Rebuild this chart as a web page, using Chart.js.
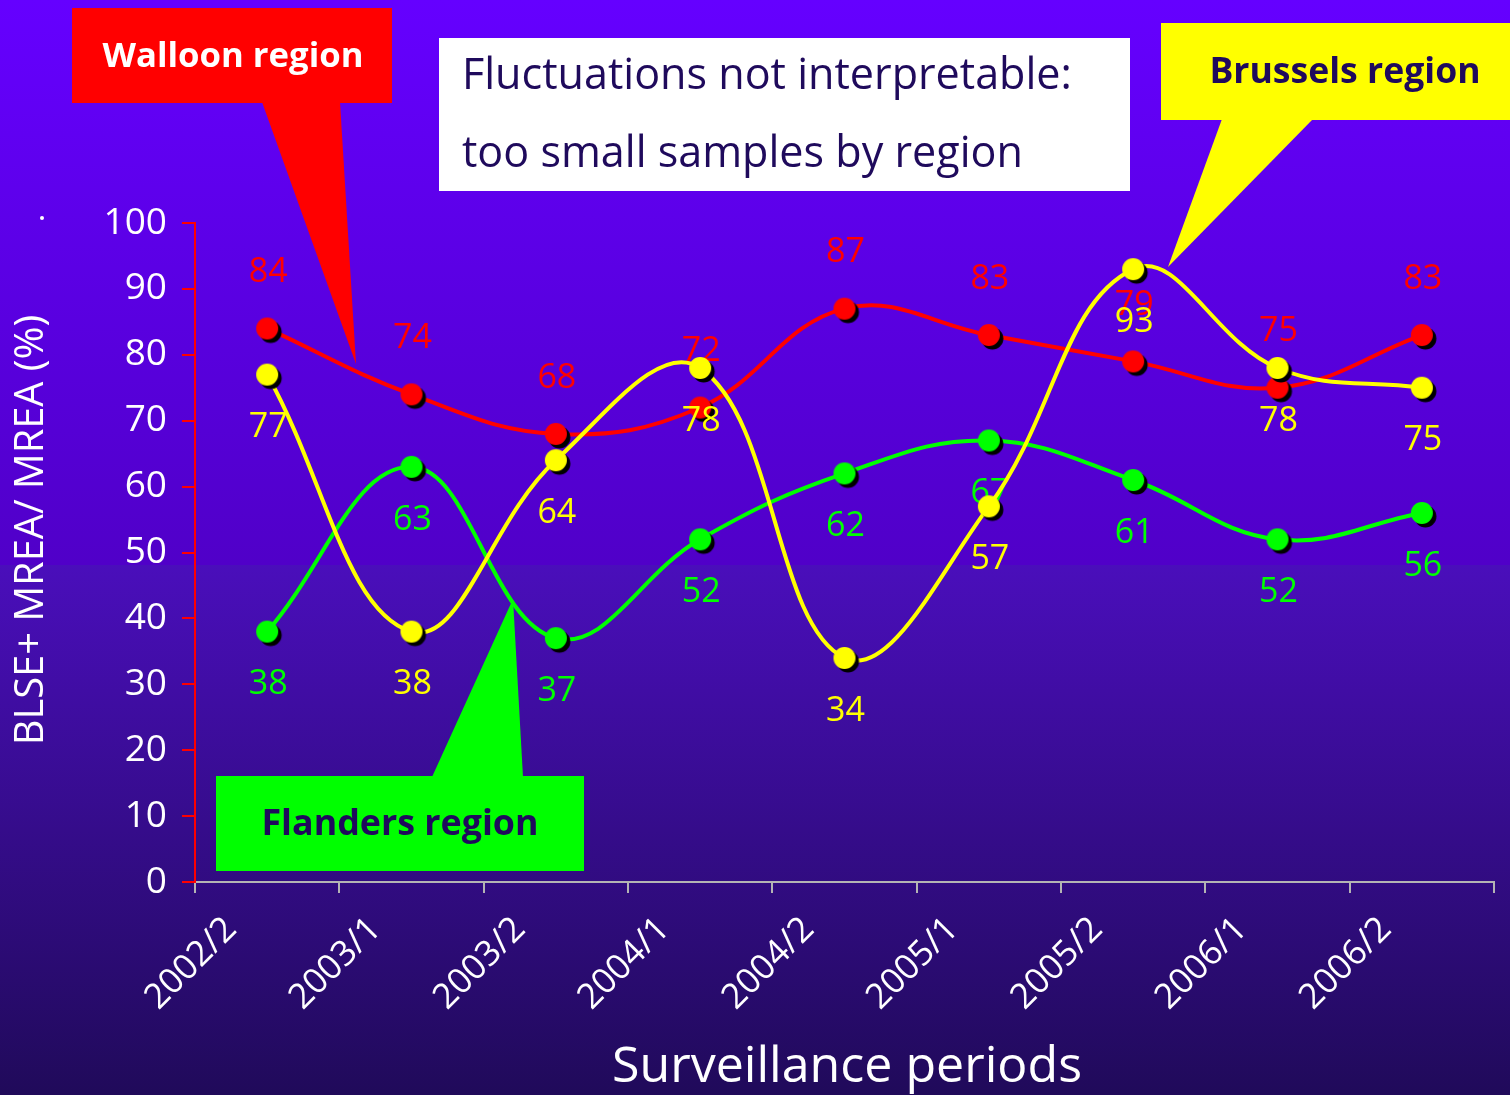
<!DOCTYPE html>
<html>
<head>
<meta charset="utf-8">
<title>BLSE+ MREA / MREA by region</title>
<script src="https://cdn.jsdelivr.net/npm/chart.js@4.4.1/dist/chart.umd.min.js"></script>
<style>
  html, body { margin: 0; padding: 0; background: #3a0aa8; }
  #wrap { position: relative; width: 1510px; height: 1095px; }
</style>
</head>
<body>
<div id="wrap"><canvas id="chart" width="1510" height="1095"></canvas></div>
<script>
// Surveillance periods and percentage of BLSE+ MREA among MREA, per region
const periods  = ['2002/2', '2003/1', '2003/2', '2004/1', '2004/2', '2005/1', '2005/2', '2006/1', '2006/2'];
const walloon  = [84, 74, 68, 72, 87, 83, 79, 75, 83];
const flanders = [38, 63, 37, 52, 62, 67, 61, 52, 56];
const brussels = [77, 38, 64, 78, 34, 57, 93, 78, 75];
const yTickValues = [0, 10, 20, 30, 40, 50, 60, 70, 80, 90, 100];

const FONT = '"Comic Sans MS", "Open Sans", sans-serif';
const RED = '#ff0000', GREEN = '#00ff00', YELLOW = '#ffff00', NAVY = '#1f0a5c';

// round marker with a dark drop shadow
function marker(color) {
  const c = document.createElement('canvas');
  c.width = c.height = 32;
  const g = c.getContext('2d');
  g.fillStyle = '#000';
  g.beginPath(); g.arc(19.5, 19.5, 11, 0, Math.PI * 2); g.fill();
  g.fillStyle = color;
  g.beginPath(); g.arc(16, 16, 11, 0, Math.PI * 2); g.fill();
  return c;
}

// font size that makes text span the given width
function fitSize(ctx, text, weight, width) {
  ctx.font = weight + ' 100px ' + FONT;
  return 100 * width / ctx.measureText(text).width;
}

function fitText(ctx, text, weight, width, x, y, align, color) {
  const size = fitSize(ctx, text, weight, width);
  ctx.font = weight + ' ' + size.toFixed(1) + 'px ' + FONT;
  ctx.fillStyle = color;
  ctx.textAlign = align;
  ctx.textBaseline = 'middle';
  ctx.fillText(text, x, y);
  return size;
}

const backdrop = {
  id: 'backdrop',
  beforeDraw(chart) {
    const ctx = chart.ctx, w = chart.width, h = chart.height;
    ctx.save();
    const top = ctx.createLinearGradient(0, 0, 0, 565);
    top.addColorStop(0, '#6500ff');
    top.addColorStop(1, '#5000c8');
    ctx.fillStyle = top;
    ctx.fillRect(0, 0, w, 565);
    const bottom = ctx.createLinearGradient(0, 565, 0, h);
    bottom.addColorStop(0, '#4a0ebb');
    bottom.addColorStop(1, '#200a5a');
    ctx.fillStyle = bottom;
    ctx.fillRect(0, 565, w, h - 565);
    ctx.restore();
  }
};

// value labels: above the Walloon points, below the others
const labelShift = { 0: -56, 1: 53, 2: 53 };
const valueLabels = {
  id: 'valueLabels',
  afterDatasetDraw(chart, args) {
    const ds = chart.data.datasets[args.index];
    const ctx = chart.ctx;
    ctx.save();
    ctx.font = '34px ' + FONT;
    ctx.fillStyle = ds.borderColor;
    ctx.textAlign = 'center';
    ctx.textBaseline = 'middle';
    args.meta.data.forEach((pt, i) => {
      ctx.fillText(String(ds.data[i]), pt.x + 1, pt.y + labelShift[args.index]);
    });
    ctx.restore();
  }
};

function callout(ctx, color, rect, tri) {
  ctx.fillStyle = color;
  ctx.fillRect(rect[0], rect[1], rect[2] - rect[0], rect[3] - rect[1]);
  ctx.beginPath();
  ctx.moveTo(tri[0][0], tri[0][1]);
  ctx.lineTo(tri[1][0], tri[1][1]);
  ctx.lineTo(tri[2][0], tri[2][1]);
  ctx.closePath();
  ctx.fill();
}

const annotations = {
  id: 'annotations',
  afterDraw(chart) {
    const ctx = chart.ctx;
    ctx.save();
    callout(ctx, RED, [72, 8, 392, 103], [[262, 102], [340, 102], [356, 364]]);
    callout(ctx, YELLOW, [1161, 23, 1510, 120], [[1222, 119], [1313, 119], [1168, 267]]);
    callout(ctx, GREEN, [216, 776, 584, 871], [[432, 777], [523, 777], [513, 599]]);
    fitText(ctx, 'Walloon region', 'bold', 261, 233, 57, 'center', '#ffffff');
    fitText(ctx, 'Brussels region', 'bold', 271, 1345, 73, 'center', NAVY);
    fitText(ctx, 'Flanders region', 'bold', 277, 400, 825, 'center', NAVY);

    ctx.fillStyle = '#ffffff';
    ctx.fillRect(439, 38, 691, 153);
    const s = fitText(ctx, 'Fluctuations not interpretable:', 'normal', 610, 462, 77, 'left', NAVY);
    ctx.font = s.toFixed(1) + 'px ' + FONT;
    ctx.fillText('too small samples by region', 462, 155);

    // axis titles
    fitText(ctx, 'Surveillance periods', 'normal', 470, 847, 1068, 'center', '#ffffff');
    ctx.save();
    ctx.translate(32, 530);
    ctx.rotate(-Math.PI / 2);
    fitText(ctx, 'BLSE+ MREA/ MREA (%)', 'normal', 430, 0, 0, 'center', '#ffffff');
    ctx.restore();
    ctx.fillStyle = '#ffffff';
    ctx.beginPath(); ctx.arc(42, 218, 2, 0, Math.PI * 2); ctx.fill();
    ctx.restore();
  }
};

function series(label, data, color, order) {
  return {
    label, data, order,
    borderColor: color,
    backgroundColor: color,
    borderWidth: 4,
    tension: 0.4,
    fill: false,
    pointStyle: marker(color),
    pointRadius: 11,
    pointHoverRadius: 11
  };
}

new Chart(document.getElementById('chart'), {
  type: 'line',
  data: {
    labels: periods,
    datasets: [
      series('Walloon region', walloon, RED, 3),
      series('Flanders region', flanders, GREEN, 2),
      series('Brussels region', brussels, YELLOW, 1)
    ]
  },
  options: {
    responsive: false,
    animation: false,
    events: [],
    layout: { padding: { top: 223, right: 16, left: 0, bottom: 0 } },
    plugins: { legend: { display: false }, tooltip: { enabled: false } },
    scales: {
      x: {
        type: 'category',
        offset: true,
        afterFit(scale) { scale.height = 213; },
        border: { color: '#b4b4b4', width: 2 },
        grid: { drawOnChartArea: false, drawTicks: true, tickLength: 11, color: '#b4b4b4', lineWidth: 2, offset: true },
        ticks: {
          color: '#ffffff',
          font: { family: FONT, size: 35 },
          maxRotation: 45, minRotation: 45,
          labelOffset: -36,
          padding: 16,
          autoSkip: false
        }
      },
      y: {
        min: 0, max: 100,
        afterFit(scale) { scale.width = 195; },
        afterBuildTicks(scale) { scale.ticks = yTickValues.map(v => ({ value: v })); },
        border: { color: RED, width: 2 },
        grid: { drawOnChartArea: false, drawTicks: true, tickLength: 13, color: RED, lineWidth: 2 },
        ticks: {
          color: '#ffffff',
          font: { family: FONT, size: 37 },
          padding: 15
        }
      }
    }
  },
  plugins: [backdrop, valueLabels, annotations]
});
</script>
</body>
</html>
